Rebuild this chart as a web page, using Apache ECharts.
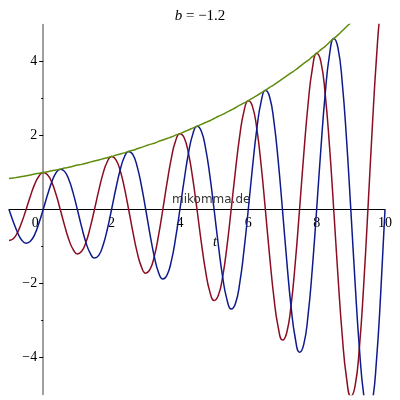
<!DOCTYPE html>
<html>
<head>
<meta charset="utf-8">
<title>b = -1.2</title>
<script src="https://cdn.jsdelivr.net/npm/echarts@6/dist/echarts.min.js"></script>
<style>
  html, body { margin: 0; padding: 0; background: #fff; }
  #chart { width: 400px; height: 400px; }
</style>
</head>
<body>
<div id="chart"></div>
<script>
// t-Werte (Abtastung)
const ts = [
  -1, -0.875, -0.75, -0.625, -0.5, -0.375, -0.25, -0.125,
  0, 0.125, 0.25, 0.375, 0.5, 0.625, 0.75, 0.875,
  1, 1.125, 1.25, 1.375, 1.5, 1.625, 1.75, 1.875,
  2, 2.125, 2.25, 2.375, 2.5, 2.625, 2.75, 2.875,
  3, 3.125, 3.25, 3.375, 3.5, 3.625, 3.75, 3.875,
  4, 4.125, 4.25, 4.375, 4.5, 4.625, 4.75, 4.875,
  5, 5.125, 5.25, 5.375, 5.5, 5.625, 5.75, 5.875,
  6, 6.125, 6.25, 6.375, 6.5, 6.625, 6.75, 6.875,
  7, 7.125, 7.25, 7.375, 7.5, 7.625, 7.75, 7.875,
  8, 8.125, 8.25, 8.375, 8.5, 8.625, 8.75, 8.875,
  9, 9.125, 9.25, 9.375, 9.5, 9.625, 9.75, 9.875,
  10
];
// dunkelrote Kurve
const redVals = [
  -0.84, -0.79, -0.62, -0.34, 0, 0.36, 0.68, 0.90,
  1, 0.94, 0.74, 0.41, 0, -0.43, -0.81, -1.08,
  -1.20, -1.13, -0.89, -0.49, 0, 0.51, 0.97, 1.29,
  1.43, 1.35, 1.06, 0.59, 0, -0.61, -1.16, -1.55,
  -1.72, -1.62, -1.27, -0.70, 0, 0.73, 1.39, 1.86,
  2.05, 1.94, 1.52, 0.84, 0, -0.88, -1.66, -2.22,
  -2.46, -2.32, -1.82, -1.01, 0, 1.05, 1.99, 2.66,
  2.94, 2.78, 2.18, 1.21, 0, -1.26, -2.38, -3.18,
  -3.53, -3.33, -2.61, -1.44, 0, 1.51, 2.85, 3.81,
  4.22, 3.99, 3.12, 1.73, 0, -1.81, -3.42, -4.56,
  -5.05, -4.77, -3.74, -2.07, 0, 2.16, 4.09, 5.46,
  6.05
];
// blaue Kurve
const blueVals = [
  0, -0.33, -0.62, -0.83, -0.91, -0.86, -0.68, -0.37,
  0, 0.39, 0.74, 0.99, 1.09, 1.03, 0.81, 0.45,
  0, -0.47, -0.89, -1.18, -1.31, -1.24, -0.97, -0.54,
  0, 0.56, 1.06, 1.42, 1.57, 1.48, 1.16, 0.64,
  0, -0.67, -1.27, -1.70, -1.88, -1.77, -1.39, -0.77,
  0, 0.80, 1.52, 2.03, 2.25, 2.12, 1.66, 0.92,
  0, -0.96, -1.82, -2.43, -2.69, -2.54, -1.99, -1.10,
  0, 1.15, 2.18, 2.91, 3.22, 3.04, 2.38, 1.32,
  0, -1.38, -2.61, -3.48, -3.86, -3.64, -2.85, -1.58,
  0, 1.65, 3.12, 4.17, 4.62, 4.36, 3.42, 1.89,
  0, -1.98, -3.74, -4.99, -5.53, -5.22, -4.09, -2.26,
  0
];
// gruene Einhuellende
const envVals = [
  0.84, 0.85, 0.87, 0.89, 0.91, 0.93, 0.96, 0.98,
  1.00, 1.02, 1.05, 1.07, 1.09, 1.12, 1.14, 1.17,
  1.20, 1.22, 1.25, 1.28, 1.31, 1.34, 1.37, 1.40,
  1.43, 1.47, 1.50, 1.53, 1.57, 1.60, 1.64, 1.68,
  1.72, 1.76, 1.79, 1.84, 1.88, 1.92, 1.96, 2.01,
  2.05, 2.10, 2.15, 2.20, 2.25, 2.30, 2.35, 2.40,
  2.46, 2.52, 2.57, 2.63, 2.69, 2.75, 2.82, 2.88,
  2.94, 3.01, 3.08, 3.15, 3.22, 3.30, 3.37, 3.45,
  3.53, 3.61, 3.69, 3.77, 3.86, 3.95, 4.03, 4.13,
  4.22, 4.32, 4.41, 4.52, 4.62, 4.72, 4.83, 4.94,
  5.05, 5.17, 5.29, 5.41, 5.53, 5.65, 5.78, 5.92,
  6.05
];
// Achsenbeschriftung
const xTickLabels = [0, 2, 4, 6, 8, 10];
const yTickLabels = [-4, -2, 2, 4];
const yMinorTicks = [-3, -1, 1, 3];

const serif = 'Liberation Serif';
const minus = v => String(v).replace('-', '\u2212');

// Achsen kreuzen sich im Ursprung -> per offset verschieben
const gridBox = { left: 9, right: 15, top: 24.5, bottom: 5.5 };
const xOffset = -185;   // von unten bis y = 0
const yOffset = -34.2;  // von links bis t = 0

let myChart = echarts.init(document.getElementById('chart'));
myChart.setOption({
  animation: false,
  backgroundColor: '#fff',
  title: {
    text: '{i|b} = \u22121.2',
    left: 'center',
    top: 4,
    textStyle: {
      fontFamily: serif,
      fontSize: 15,
      fontWeight: 'normal',
      color: '#000',
      rich: {
        i: { fontFamily: serif, fontSize: 15, fontStyle: 'italic', color: '#000' }
      }
    }
  },
  grid: Object.assign({ containLabel: false, outerBoundsMode: 'none' }, gridBox),
  xAxis: {
    type: 'value',
    min: -1,
    max: 10,
    interval: 1,
    position: 'bottom',
    offset: xOffset,
    name: 't',
    nameLocation: 'middle',
    nameGap: 26,
    nameTextStyle: {
      fontFamily: serif, fontSize: 14, fontStyle: 'italic', color: '#000',
      padding: [0, 0, 0, 36]
    },
    axisLine: { onZero: false, lineStyle: { color: '#000', width: 1 } },
    axisTick: { show: false },
    splitLine: { show: false },
    axisLabel: {
      customValues: xTickLabels,
      margin: 7,
      fontFamily: serif,
      fontSize: 14,
      color: '#000',
      formatter: v => v === 0 ? '{z|0}' : minus(v),
      rich: {
        z: { fontFamily: serif, fontSize: 14, color: '#000', padding: [0, 16, 0, 0] }
      }
    }
  },
  yAxis: [
    {
      type: 'value',
      min: -5,
      max: 5,
      interval: 1,
      position: 'left',
      offset: yOffset,
      axisLine: { onZero: false, lineStyle: { color: '#808080', width: 1.5 } },
      axisTick: { customValues: yTickLabels, length: 4, lineStyle: { color: '#000' } },
      splitLine: { show: false },
      axisLabel: {
        customValues: yTickLabels,
        margin: 6,
        fontFamily: serif,
        fontSize: 14,
        color: '#000',
        formatter: v => minus(v)
      }
    },
    {
      // nur die kleinen Striche bei ungeraden Werten
      type: 'value',
      min: -5,
      max: 5,
      interval: 1,
      position: 'left',
      offset: yOffset,
      axisLine: { show: false, onZero: false },
      axisTick: { customValues: yMinorTicks, length: 2, lineStyle: { color: '#000' } },
      axisLabel: { show: false },
      splitLine: { show: false }
    }
  ],
  graphic: [
    {
      type: 'text',
      left: 172,
      top: 194,
      style: {
        text: 'mikomma.de',
        font: '12px "DejaVu Sans"',
        fill: '#333'
      }
    }
  ],
  series: [
    {
      type: 'line',
      data: ts.map((t, i) => [t, redVals[i]]),
      smooth: true,
      symbol: 'none',
      lineStyle: { color: '#8b0d22', width: 1.5 }
    },
    {
      type: 'line',
      data: ts.map((t, i) => [t, blueVals[i]]),
      smooth: true,
      symbol: 'none',
      lineStyle: { color: '#0e1a8c', width: 1.5 }
    },
    {
      type: 'line',
      data: ts.map((t, i) => [t, envVals[i]]),
      smooth: true,
      symbol: 'none',
      lineStyle: { color: '#5e8c0c', width: 1.5 }
    }
  ]
});
</script>
</body>
</html>
